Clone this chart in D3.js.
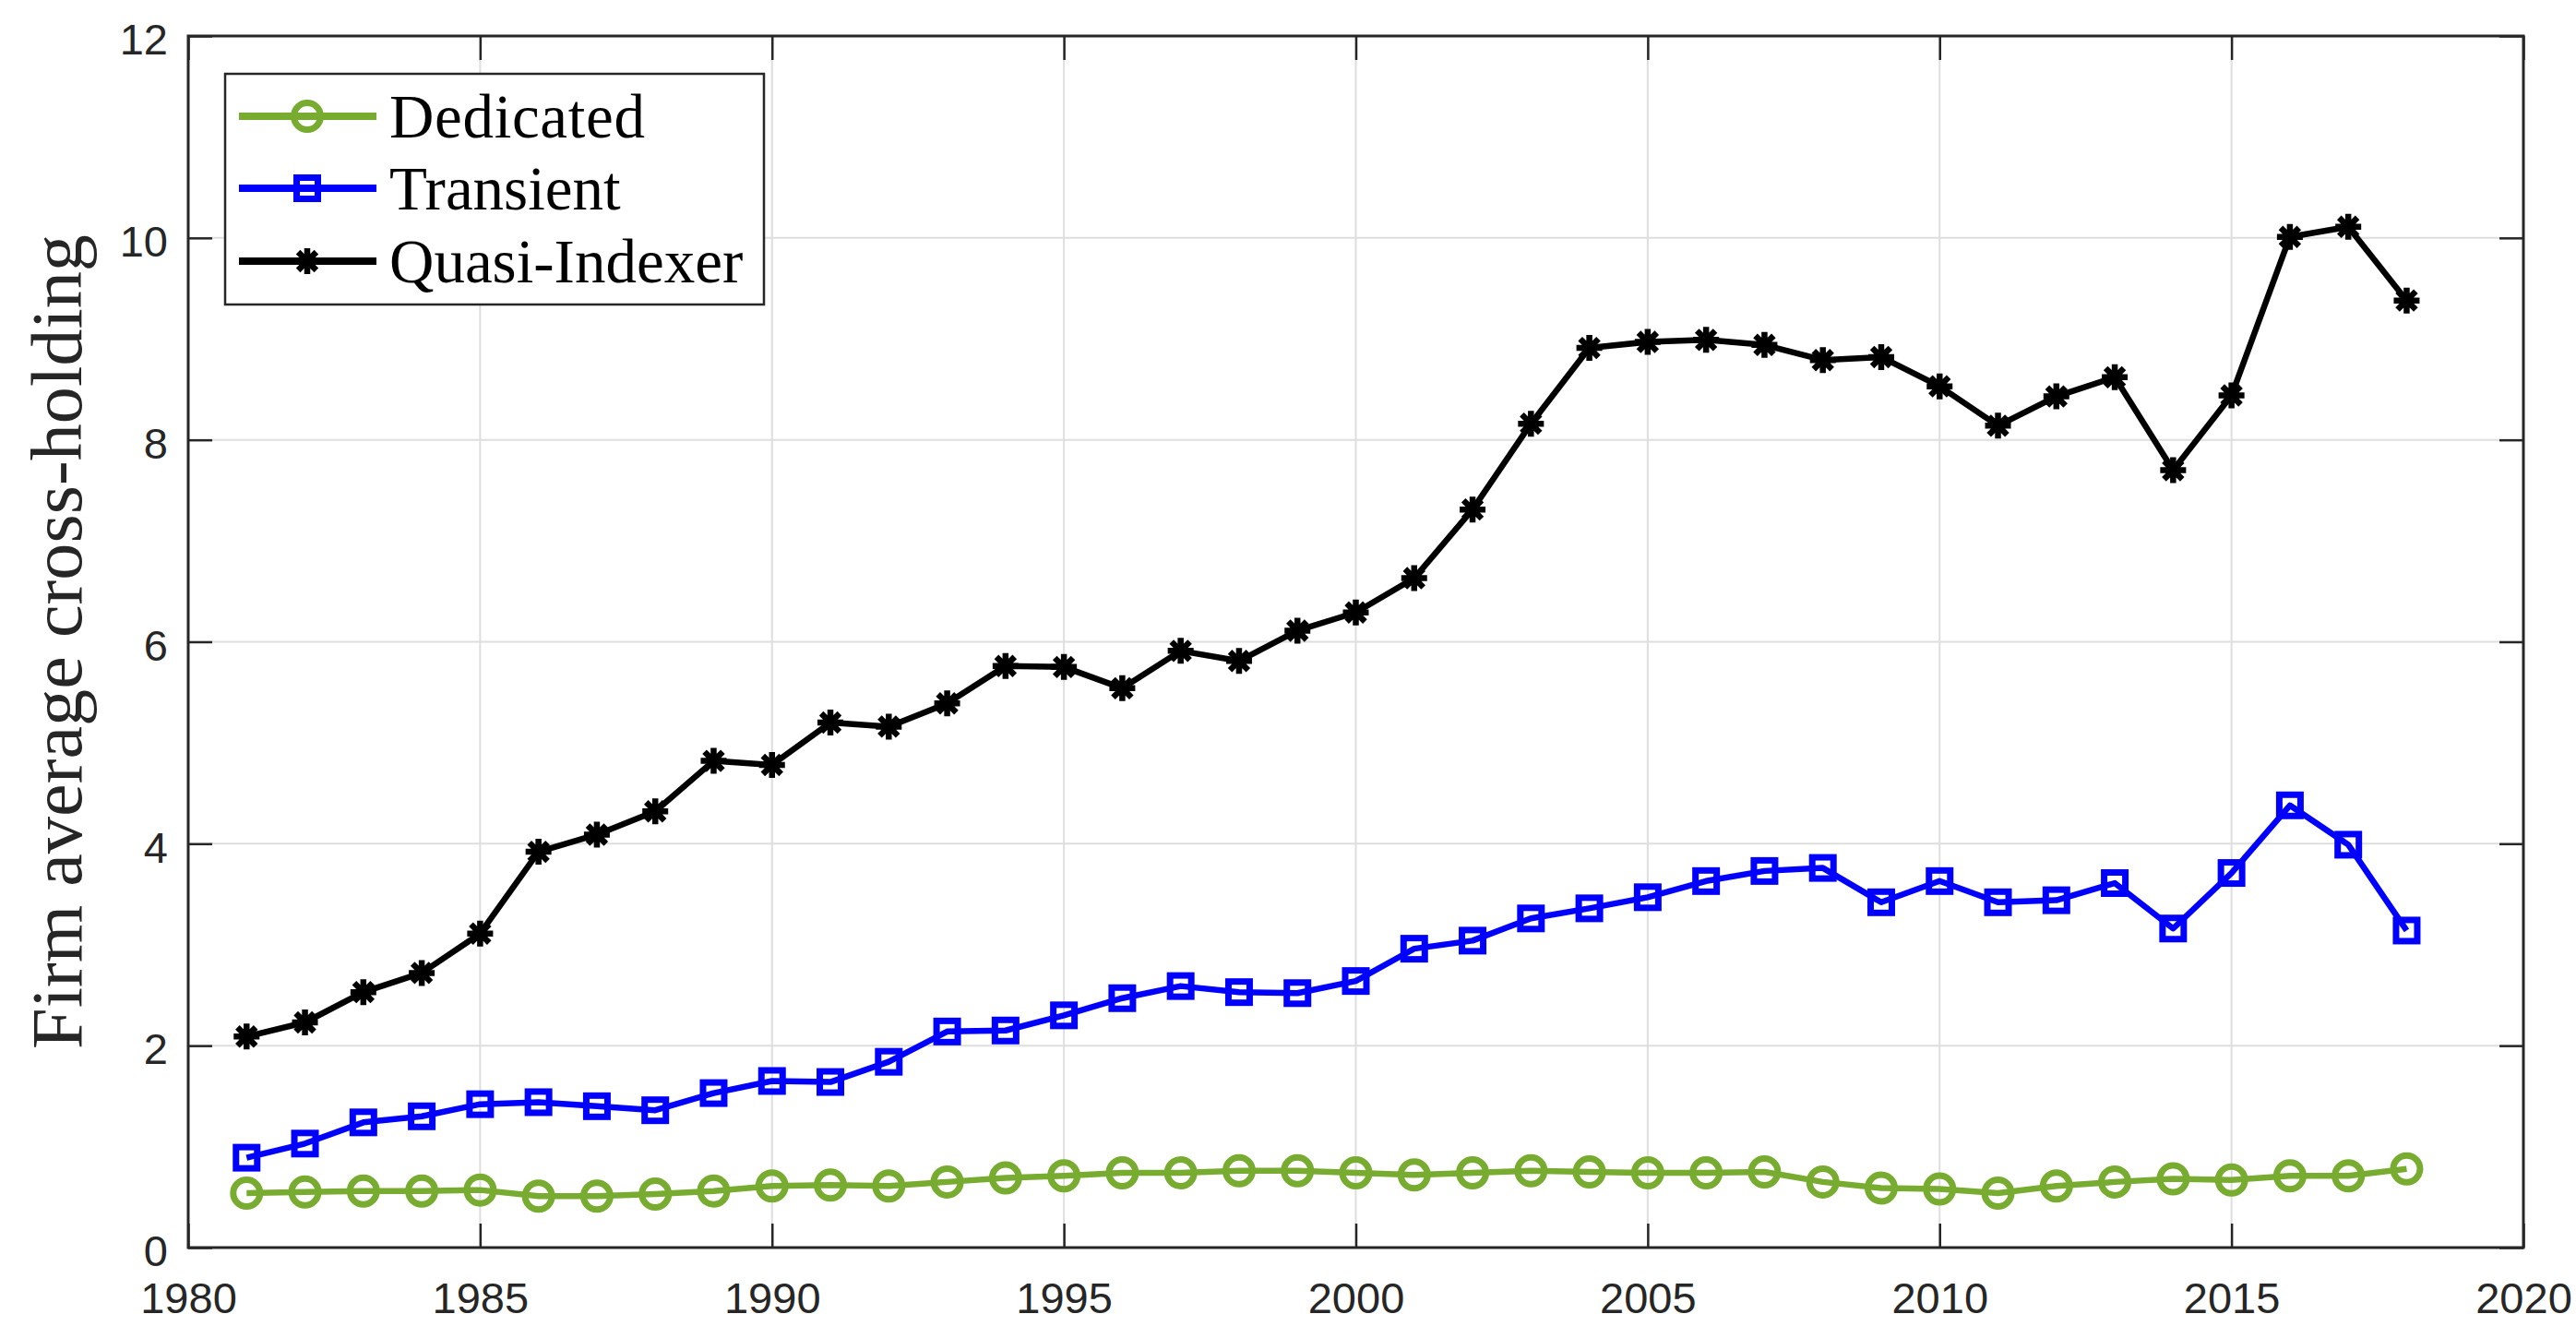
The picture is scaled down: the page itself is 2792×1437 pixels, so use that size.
<!DOCTYPE html>
<html>
<head>
<meta charset="utf-8">
<script src="https://cdn.jsdelivr.net/npm/d3@7"></script>
<style>
  body { margin: 0; background: #fff; }
  svg { display: block; }
</style>
</head>
<body>
<div id="chart"></div>
<script>
// Years on the x axis
const years = d3.range(1981, 2019);

// Series values
const dedicated = [0.54, 0.55, 0.56, 0.56, 0.57, 0.51, 0.51, 0.53, 0.56, 0.61,
    0.62, 0.61, 0.65, 0.69, 0.71, 0.74, 0.74, 0.76, 0.76, 0.74,
    0.72, 0.74, 0.76, 0.75, 0.74, 0.74, 0.75, 0.65, 0.59, 0.58,
    0.54, 0.61, 0.65, 0.68, 0.67, 0.71, 0.71, 0.78];

const transient = [0.89, 1.03, 1.24, 1.30, 1.42, 1.44, 1.40, 1.36, 1.53, 1.65,
    1.64, 1.84, 2.14, 2.15, 2.30, 2.47, 2.59, 2.53, 2.52, 2.64,
    2.96, 3.04, 3.26, 3.36, 3.47, 3.63, 3.73, 3.76, 3.42, 3.63,
    3.42, 3.44, 3.61, 3.16, 3.71, 4.38, 3.99, 3.14];

const quasiIndexer = [2.09, 2.23, 2.53, 2.72, 3.11, 3.92, 4.09, 4.32, 4.82, 4.78,
    5.20, 5.16, 5.39, 5.76, 5.75, 5.54, 5.91, 5.81, 6.11, 6.29,
    6.63, 7.31, 8.16, 8.91, 8.97, 8.99, 8.94, 8.79, 8.82, 8.53,
    8.14, 8.43, 8.62, 7.70, 8.44, 10.01, 10.11, 9.38];

const xTicks = [1980, 1985, 1990, 1995, 2000, 2005, 2010, 2015, 2020];
const yTicks = [0, 2, 4, 6, 8, 10, 12];
const seriesNames = ['Dedicated', 'Transient', 'Quasi-Indexer'];

const width = 2792;
const height = 1437;
const margin = { top: 39, right: 57, bottom: 85, left: 204 };
const innerWidth = width - margin.left - margin.right;
const innerHeight = height - margin.top - margin.bottom;

const axisColor = '#262626';
const tickFont = '"Liberation Sans", Arial, sans-serif';
const serifFont = '"Liberation Serif", "Times New Roman", serif';

const series = [
    { name: seriesNames[0], values: dedicated, color: '#77AC30', marker: 'circle' },
    { name: seriesNames[1], values: transient, color: '#0000FF', marker: 'square' },
    { name: seriesNames[2], values: quasiIndexer, color: '#000000', marker: 'star' }
];

const svg = d3.select('#chart')
    .append('svg')
    .attr('width', width)
    .attr('height', height);

const chart = svg.append('g')
    .attr('transform', `translate(${margin.left}, ${margin.top})`);

const xScale = d3.scaleLinear().domain([1980, 2020]).range([0, innerWidth]);
const yScale = d3.scaleLinear().domain([0, 12]).range([innerHeight, 0]);

// Grid lines
chart.append('g')
    .selectAll('line')
    .data(xTicks.slice(1, -1))
    .enter()
    .append('line')
    .attr('x1', d => xScale(d)).attr('x2', d => xScale(d))
    .attr('y1', 0).attr('y2', innerHeight)
    .attr('stroke', '#dedede')
    .attr('stroke-width', 2);

chart.append('g')
    .selectAll('line')
    .data(yTicks.slice(1, -1))
    .enter()
    .append('line')
    .attr('x1', 0).attr('x2', innerWidth)
    .attr('y1', d => yScale(d)).attr('y2', d => yScale(d))
    .attr('stroke', '#dedede')
    .attr('stroke-width', 2);

// Axes (ticks point inward, MATLAB style)
function styleAxis(g) {
    g.select('.domain').remove();
    g.selectAll('.tick line').attr('stroke', axisColor).attr('stroke-width', 2.5);
    g.selectAll('.tick text')
        .attr('fill', axisColor)
        .style('font-family', tickFont)
        .style('font-size', '47px');
}

chart.append('g')
    .attr('transform', `translate(0, ${innerHeight})`)
    .call(d3.axisBottom(xScale).tickValues(xTicks).tickFormat(d3.format('d'))
        .tickSizeInner(-26).tickSizeOuter(0).tickPadding(38))
    .call(styleAxis);

chart.append('g')
    .call(d3.axisTop(xScale).tickValues(xTicks).tickFormat('')
        .tickSizeInner(-26).tickSizeOuter(0))
    .call(styleAxis);

chart.append('g')
    .call(d3.axisLeft(yScale).tickValues(yTicks).tickFormat(d3.format('d'))
        .tickSizeInner(-26).tickSizeOuter(0).tickPadding(22))
    .call(styleAxis)
    .selectAll('.tick text')
    .attr('dy', '0.42em');

chart.append('g')
    .attr('transform', `translate(${innerWidth}, 0)`)
    .call(d3.axisRight(yScale).tickValues(yTicks).tickFormat('')
        .tickSizeInner(-26).tickSizeOuter(0))
    .call(styleAxis);

// Box
chart.append('rect')
    .attr('x', 0).attr('y', 0)
    .attr('width', innerWidth).attr('height', innerHeight)
    .attr('fill', 'none')
    .attr('stroke', axisColor)
    .attr('stroke-width', 3);

// Markers
function drawMarker(g, type, color) {
    if (type === 'circle') {
        g.append('circle').attr('r', 14.5)
            .attr('fill', 'none').attr('stroke', color).attr('stroke-width', 7);
    } else if (type === 'square') {
        g.append('rect').attr('x', -11.5).attr('y', -11.5).attr('width', 23).attr('height', 23)
            .attr('fill', 'none').attr('stroke', color).attr('stroke-width', 7);
    } else {
        const r = 14;
        const d = r * Math.SQRT1_2;
        g.append('path')
            .attr('d', `M${-r},0L${r},0M0,${-r}L0,${r}M${-d},${-d}L${d},${d}M${-d},${d}L${d},${-d}`)
            .attr('stroke', color).attr('stroke-width', 6.5).attr('fill', 'none');
    }
}

const line = d3.line()
    .x((d, i) => xScale(years[i]))
    .y(d => yScale(d));

series.forEach(s => {
    chart.append('path')
        .datum(s.values)
        .attr('d', line)
        .attr('fill', 'none')
        .attr('stroke', s.color)
        .attr('stroke-width', 6.5)
        .attr('stroke-linejoin', 'round');

    chart.append('g')
        .selectAll('g')
        .data(s.values)
        .enter()
        .append('g')
        .attr('transform', (d, i) => `translate(${xScale(years[i])}, ${yScale(d)})`)
        .each(function () { drawMarker(d3.select(this), s.marker, s.color); });
});

// Y label
svg.append('text')
    .attr('transform', `translate(88, ${margin.top + innerHeight / 2}) rotate(-90)`)
    .attr('text-anchor', 'middle')
    .attr('textLength', 883)
    .attr('lengthAdjust', 'spacingAndGlyphs')
    .style('font-family', serifFont)
    .style('font-size', '78px')
    .attr('fill', axisColor)
    .text('Firm average cross-holding');

// Legend
const legend = svg.append('g');
legend.append('rect')
    .attr('x', 244).attr('y', 80)
    .attr('width', 584).attr('height', 250)
    .attr('fill', '#fff')
    .attr('stroke', axisColor)
    .attr('stroke-width', 2.5);

const legendRows = [126, 204, 283];
series.forEach((s, i) => {
    const row = legend.append('g').attr('transform', `translate(0, ${legendRows[i]})`);
    row.append('line')
        .attr('x1', 259).attr('x2', 408)
        .attr('stroke', s.color).attr('stroke-width', 8);
    drawMarker(row.append('g').attr('transform', 'translate(333, 0)'), s.marker, s.color);
    row.append('text')
        .attr('x', 422).attr('y', 0).attr('dy', '0.34em')
        .attr('textLength', i === 0 ? 277 : null)
        .style('font-family', serifFont)
        .style('font-size', '67px')
        .attr('fill', '#000')
        .text(s.name);
});
</script>
</body>
</html>
